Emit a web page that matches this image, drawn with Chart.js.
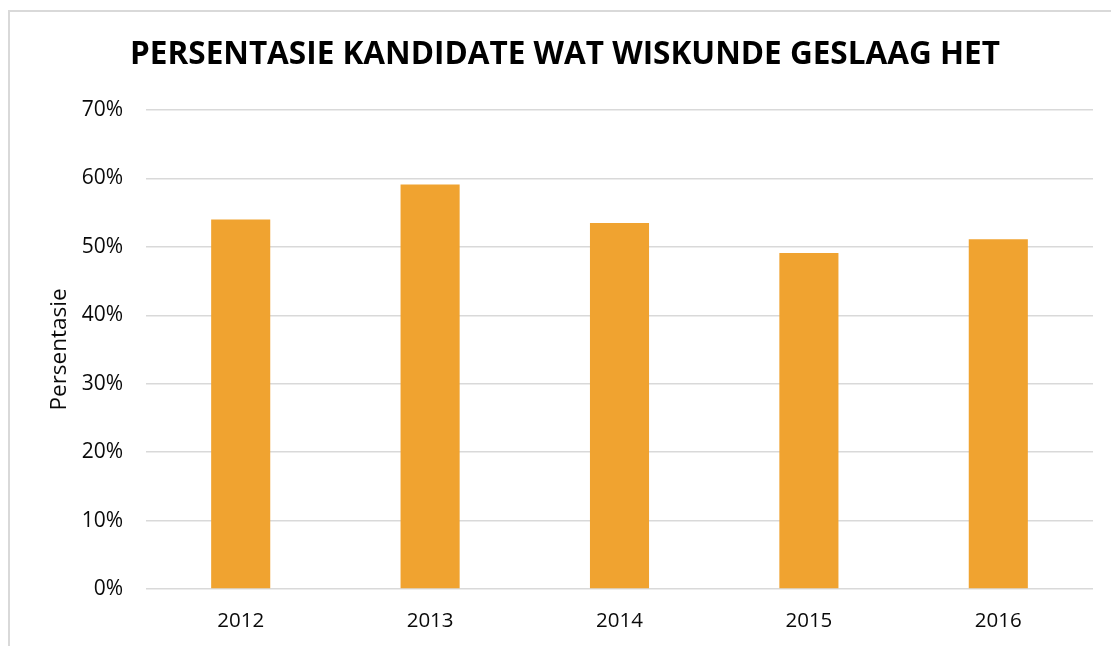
<!DOCTYPE html>
<html>
<head>
<meta charset="utf-8">
<script src="https://cdn.jsdelivr.net/npm/chart.js@4"></script>
<style>
  html, body { margin: 0; padding: 0; background: #fff; }
  #frame { position: absolute; left: 8px; top: 10px; width: 1120px; height: 700px;
           border-left: 2px solid #d9d9d9; border-top: 2px solid #d9d9d9; box-sizing: border-box; }
  #c { position: absolute; left: 0; top: 0; }
</style>
</head>
<body>
<div id="frame"></div>
<canvas id="c" width="1111" height="646"></canvas>
<script>
const categories = ['2012', '2013', '2014', '2015', '2016'];
const passRates = [54.0, 59.1, 53.5, 49.1, 51.1];
const yTicks = [0, 10, 20, 30, 40, 50, 60, 70];
const titleText = 'PERSENTASIE KANDIDATE WAT WISKUNDE GESLAAG HET';
const yTitle = 'Persentasie';

const FONT = "'Open Sans', 'Noto Sans', sans-serif";

new Chart(document.getElementById('c'), {
  type: 'bar',
  data: {
    labels: categories,
    datasets: [{
      data: passRates,
      backgroundColor: '#F0A330',
      borderWidth: 0,
      categoryPercentage: 1,
      barPercentage: 0.312
    }]
  },
  options: {
    responsive: false,
    animation: false,
    layout: { padding: { left: 37, right: 18, top: 0, bottom: 0 } },
    plugins: {
      legend: { display: false },
      tooltip: { enabled: false },
      title: {
        display: true,
        text: titleText,
        color: '#000',
        font: { family: FONT, size: 31.5, weight: 'bold', lineHeight: 1.2 },
        padding: { top: 36, bottom: 36.2 }
      }
    },
    scales: {
      x: {
        grid: { display: false, drawTicks: false },
        border: { display: false },
        ticks: { color: '#0a0a0a', padding: 20, font: { family: FONT, size: 20.5 } },
        afterFit: (s) => { s.height = 57; }
      },
      y: {
        min: 0, max: 70,
        afterBuildTicks: (s) => { s.ticks = yTicks.map(v => ({ value: v })); },
        grid: { color: '#d9d9d9', lineWidth: 1.5, drawTicks: false },
        border: { display: false },
        ticks: { color: '#0a0a0a', padding: 23, font: { family: FONT, size: 21 },
                 callback: (v) => v + '%' },
        title: { display: true, text: yTitle, color: '#0a0a0a',
                 font: { family: FONT, size: 22.5, lineHeight: 1.2 },
                 padding: { top: 9.5, bottom: 0 } },
        afterFit: (s) => { s.width = 146 - 37; }
      }
    }
  }
});
</script>
</body>
</html>
